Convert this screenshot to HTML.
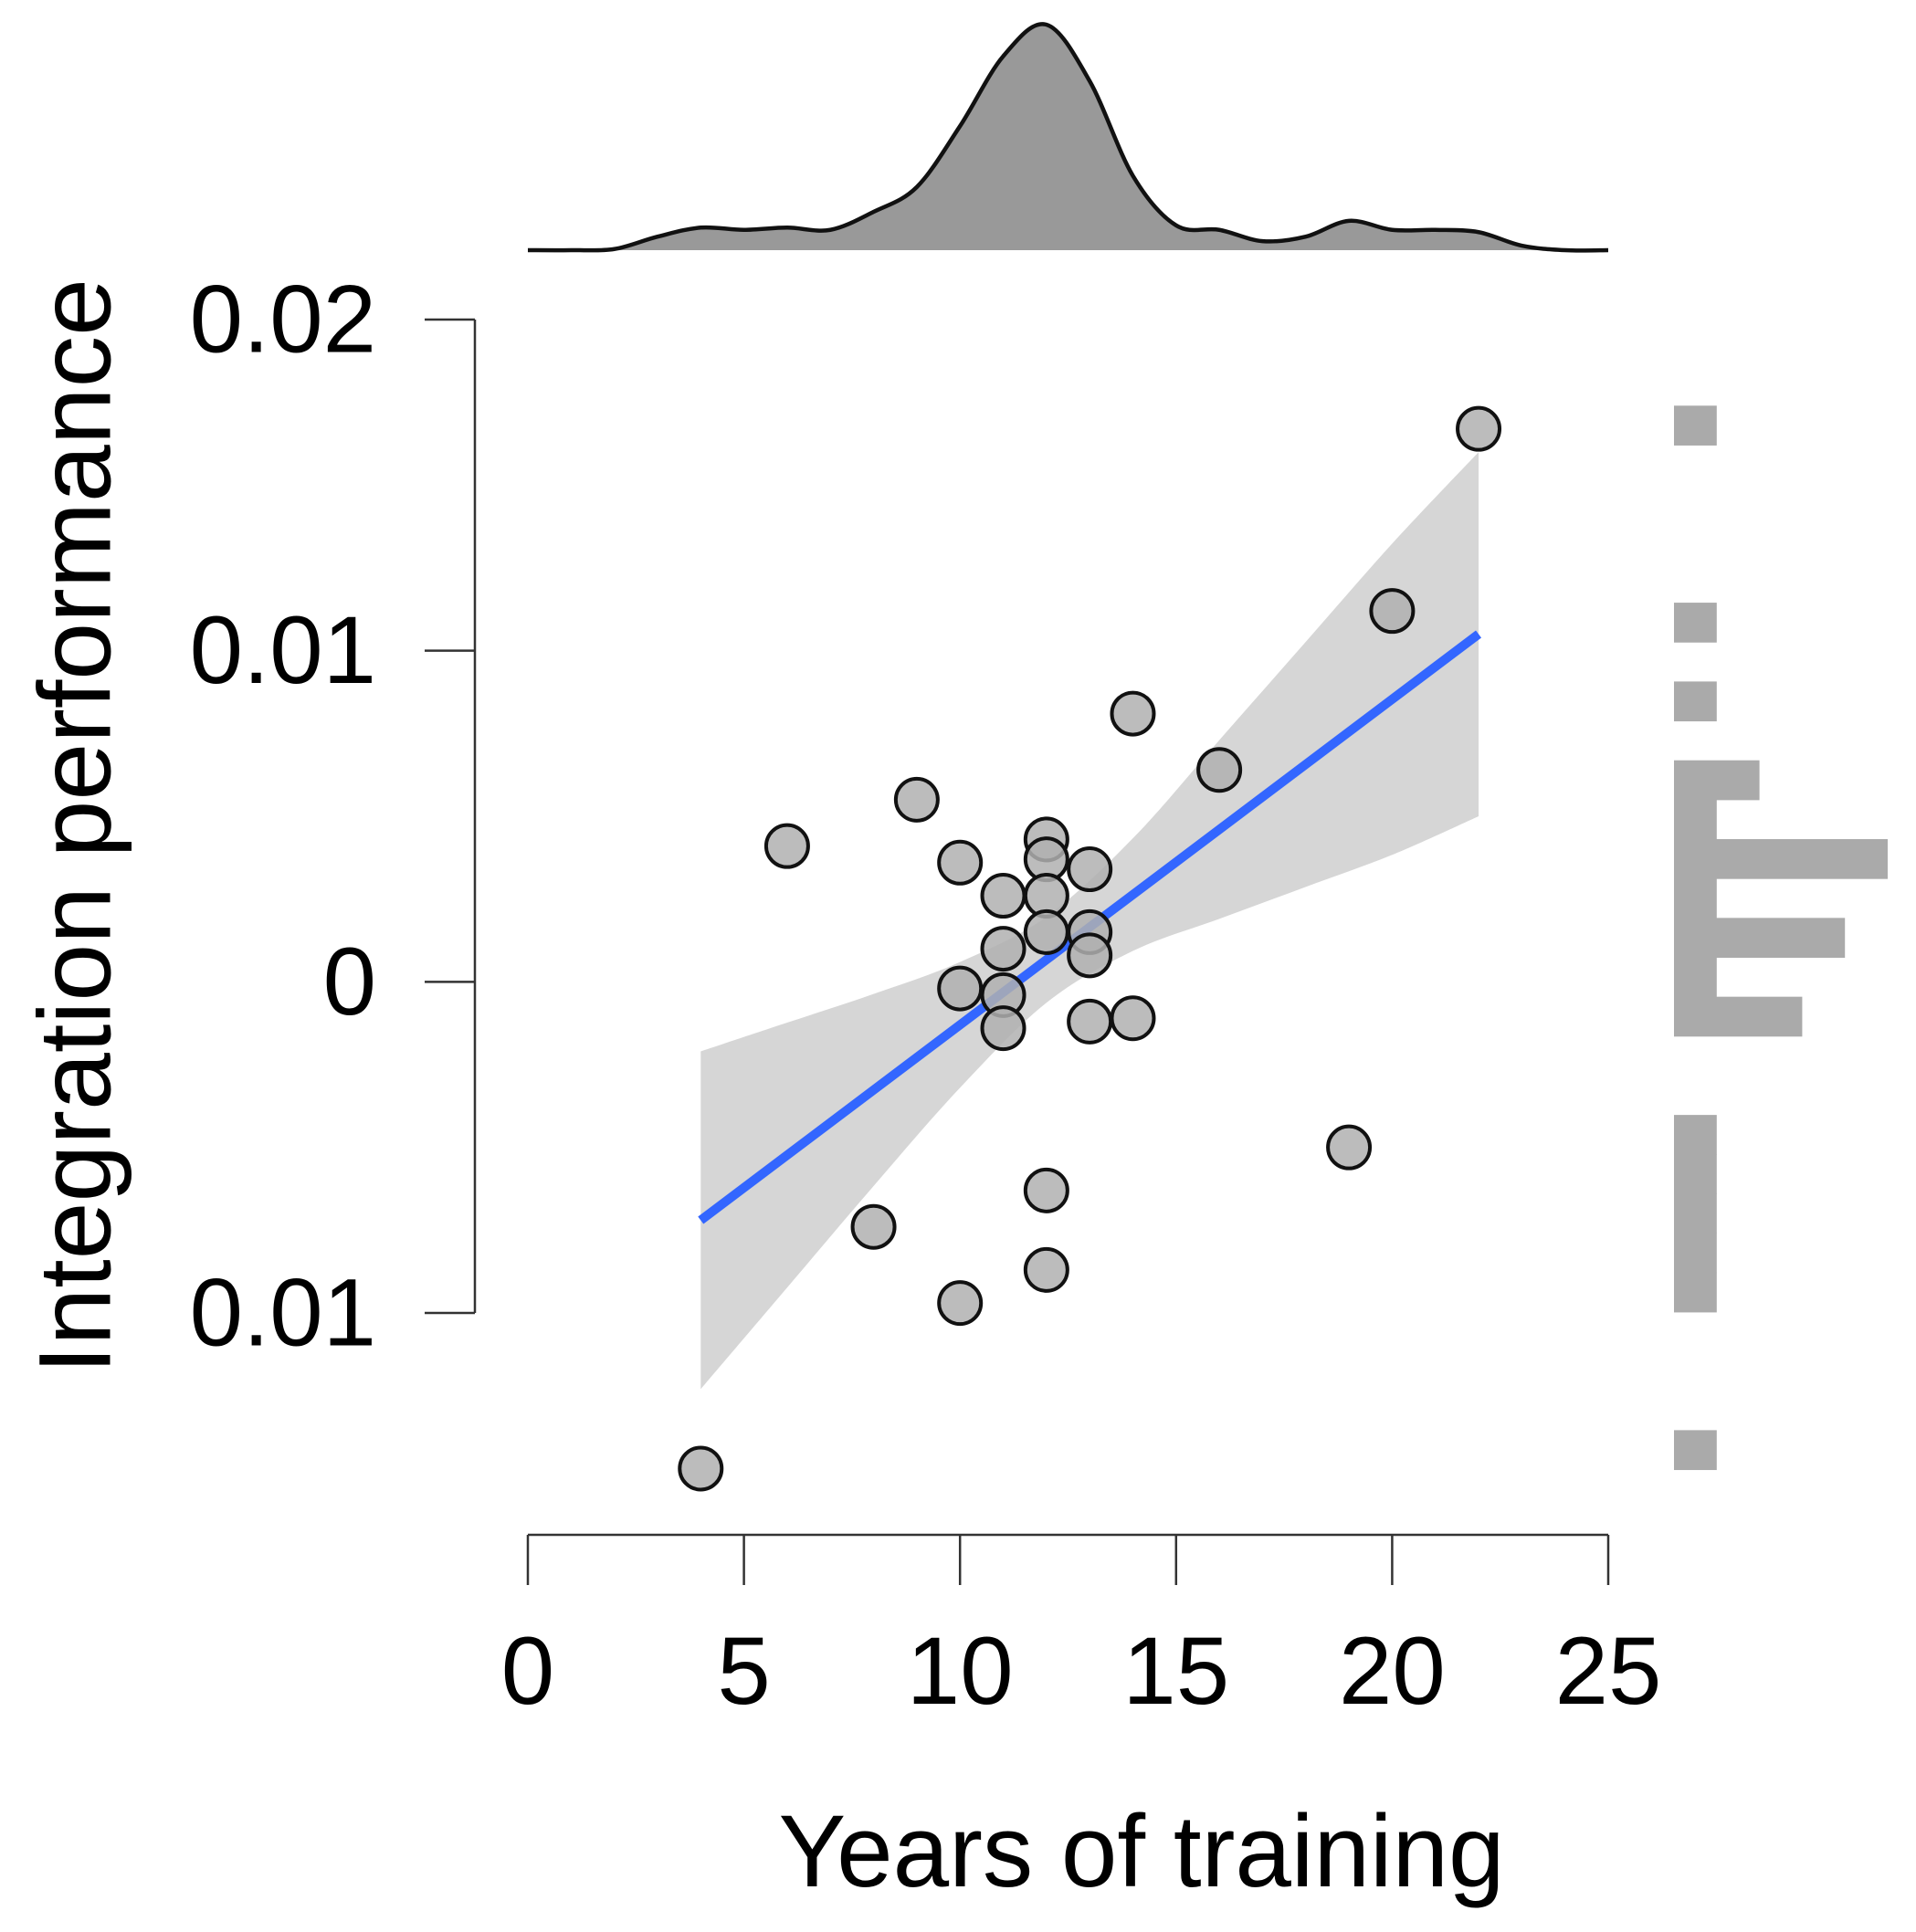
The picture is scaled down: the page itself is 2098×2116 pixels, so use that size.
<!DOCTYPE html>
<html><head><meta charset="utf-8"><style>
html,body{margin:0;padding:0;background:#fff;}
svg{display:block;font-family:"Liberation Sans",sans-serif;}
</style></head><body>
<svg id="chart" width="2098" height="2116" viewBox="0 0 2098 2116">
<g id="band"></g>
<g id="axes"></g>
<g id="line"></g>
<g id="points"></g>
<g id="density"></g>
<g id="hist"></g>
<text x="82" y="905" transform="rotate(-90 82 905)" text-anchor="middle" dominant-baseline="central" font-size="112" textLength="1200" lengthAdjust="spacingAndGlyphs">Integration performance</text>
<text x="1250" y="2066" text-anchor="middle" font-size="112" textLength="795" lengthAdjust="spacingAndGlyphs">Years of training</text>
</svg>
<script>
const pointX = [4,6,8,9,10,10,10,11,11,11,11,12,12,12,12,12,12,13,13,13,13,14,14,16,19,20,22];
const pointY = [-0.0147,0.0041,-0.0074,0.0055,0.0036,-0.0002,-0.0097,0.0026,0.0010,-0.0004,-0.0014,0.0043,0.0037,0.0026,0.0015,-0.0063,-0.0087,0.0034,0.0015,0.0008,-0.0012,0.0081,-0.0011,0.0064,-0.0050,0.0112,0.0167];
const fitX = [4,22];
const fitY = [-0.0072,0.0105];
const bandX = [4,6,8,10,12,14,16,18,20,22];
const bandHalf = [0.0051,0.0040,0.0029,0.0019,0.0013,0.0017,0.0027,0.0037,0.0047,0.0055];
const xTicks = [0,5,10,15,20,25];
const yTicks = [0.02,0.01,0,-0.01];
const yTickLabels = ["0.02","0.01","0","0.01"];
const densX = [0,1,2,3,4,5,6,7,8,9,10,11,12,13,14,15,16,17,18,19,20,21,22,23,24,25];
const densY = [0,0,0.005,0.06,0.10,0.09,0.10,0.09,0.17,0.28,0.55,0.86,1.0,0.75,0.33,0.11,0.09,0.04,0.06,0.13,0.09,0.09,0.08,0.02,0,0];
const histTop = 0.0174;
const histBinWidth = 0.00119;
const histCounts = [1,0,0,0,0,1,0,1,0,2,1,5,1,4,1,3,0,0,1,1,1,1,1,0,0,0,1];

const NS="http://www.w3.org/2000/svg";
const X0=578,X1=1761,XMIN=0,XMAX=25;
const YTOP=350,YBOT=1438,VTOP=0.02,VBOT=-0.01;
const YAX=520, XAXY=1681;
const sx=v=>X0+(v-XMIN)/(XMAX-XMIN)*(X1-X0);
const sy=v=>YTOP+(VTOP-v)/(VTOP-VBOT)*(YBOT-YTOP);
function mk(tag,parent,attrs){const e=document.createElementNS(NS,tag);for(const k in attrs)e.setAttribute(k,attrs[k]);document.getElementById(parent).appendChild(e);return e;}

// band (smoothed)
function fitAt(x){return fitY[0]+(fitY[1]-fitY[0])*(x-fitX[0])/(fitX[1]-fitX[0]);}
function smooth(pts){let d=`M${pts[0][0]} ${pts[0][1]}`;for(let i=0;i<pts.length-1;i++){const p0=pts[Math.max(0,i-1)],p1=pts[i],p2=pts[i+1],p3=pts[Math.min(pts.length-1,i+2)];d+=` C${p1[0]+(p2[0]-p0[0])/6} ${p1[1]+(p2[1]-p0[1])/6} ${p2[0]-(p3[0]-p1[0])/6} ${p2[1]-(p3[1]-p1[1])/6} ${p2[0]} ${p2[1]}`;}return d;}
let up=bandX.map((x,i)=>[sx(x),sy(fitAt(x)+bandHalf[i])]);
let lo=bandX.map((x,i)=>[sx(x),sy(fitAt(x)-bandHalf[i])]).reverse();
const bp=mk('path','band',{d:smooth(up)+' L'+lo[0][0]+' '+lo[0][1]+smooth(lo).replace(/^M[^C]*/,' ')+'Z',fill:'#d6d6d6'});



// axes
const ya=mk('path','axes',{d:`M${YAX} ${sy(0.02)}V${sy(-0.01)}`,fill:'none',stroke:'#333',"stroke-width":2.5});


yTicks.forEach((v,i)=>{
 const t=mk('line','axes',{x1:YAX-55,x2:YAX,y1:sy(v),y2:sy(v),stroke:'#333',"stroke-width":2.5});
 
 
 const l=mk('text','axes',{x:412,y:sy(v),"text-anchor":"end","dominant-baseline":"central","font-size":105});
 l.textContent=yTickLabels[i];
 
 
});
const xa=mk('line','axes',{x1:sx(0),x2:sx(25),y1:XAXY,y2:XAXY,stroke:'#333',"stroke-width":2.5});


xTicks.forEach(v=>{
 const t=mk('line','axes',{x1:sx(v),x2:sx(v),y1:XAXY,y2:XAXY+55,stroke:'#333',"stroke-width":2.5});
 
 
 const l=mk('text','axes',{x:sx(v),y:1866,"text-anchor":"middle","font-size":105});
 l.textContent=v;
 
 
});

// regression line
const rl=mk('line','line',{x1:sx(fitX[0]),y1:sy(fitY[0]),x2:sx(fitX[1]),y2:sy(fitY[1]),stroke:'#3366ff',"stroke-width":10});



// points
pointX.forEach((x,i)=>{
 const c=mk('circle','points',{cx:sx(x),cy:sy(pointY[i]),r:23,fill:'#b0b0b0',"fill-opacity":0.85,stroke:'#111',"stroke-width":4});
 
 
});

// density
const DB=274,DPEAK=27;
const dp=densX.map((x,i)=>[sx(x),DB-densY[i]*(DB-DPEAK)]);
const d=smooth(dp);
const df=mk('path','density',{d:d+` L${sx(25)} ${DB} L${sx(0)} ${DB}Z`,fill:'#999'});


const dl=mk('path','density',{d:d,fill:'none',stroke:'#111',"stroke-width":4.5});



// histogram
const HX=1833,HPER=46.8;
histCounts.forEach((c,i)=>{
 if(!c)return;
 const top=histTop-i*histBinWidth, bot=top-histBinWidth;
 const r=mk('rect','hist',{x:HX,y:sy(top),width:c*HPER,height:sy(bot)-sy(top)+0.5,fill:'#aaaaaa'});
 
 
});
</script>
</body></html>
